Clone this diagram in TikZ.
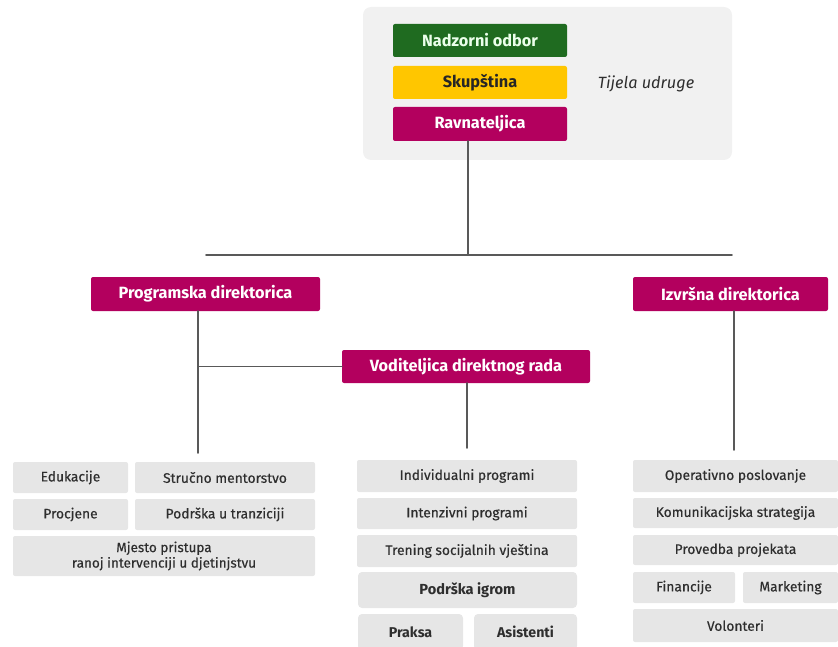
\documentclass[tikz,border=0pt]{standalone}
\usepackage{fontspec}
\setmainfont{Fira Sans}
\definecolor{zelena}{HTML}{1F6B20}
\definecolor{zuta}{HTML}{FFC600}
\definecolor{ljubicasta}{HTML}{B3005E}
\definecolor{siva}{HTML}{E6E6E6}
\definecolor{pozadina}{HTML}{F1F1F1}
\definecolor{linija}{HTML}{595959}
\definecolor{tekst}{HTML}{2E2E2E}
\begin{document}
\begin{tikzpicture}[x=1pt,y=-1pt,line join=round,line cap=round,
	kutija/.style={inner sep=0pt,outer sep=0pt,rounded corners=2pt,align=center,font=\fontsize{16.3}{18}\selectfont\bfseries},
	ravn/.style={kutija,fill=ljubicasta,text=white,minimum height=34pt},
	sivo/.style={inner sep=0pt,outer sep=0pt,rounded corners=2pt,fill=siva,text=tekst,align=center,font=\fontsize{13.8}{15}\selectfont\addfontfeature{FakeBold=0.4}},
	sivobold/.style={sivo,rounded corners=4pt,font=\fontsize{14.2}{16}\selectfont\bfseries},
	veza/.style={draw=linija,line width=1.6pt}]
	\useasboundingbox (0,0) rectangle (838,647);
	% tijela udruge
	\fill[pozadina,rounded corners=8pt] (363,7) rectangle (732,160);
	\node[kutija,fill=zelena,text=green!8,minimum width=174pt,minimum height=33pt] (nadzor) at (480,40.5) {Nadzorni odbor};
	\node[kutija,fill=zuta,text=black!85,minimum width=174pt,minimum height=33pt] (skup) at (480,82.5) {Skupština};
	\node[ravn,minimum width=174pt] (ravnat) at (480,124) {Ravnateljica};
	\node[font=\fontsize{16.3}{18}\selectfont\itshape,text=tekst] (tijela) at (646,84) {Tijela udruge};
	% glavna linija
	\coordinate (jn) at (468,255);
	\coordinate (jl) at (206,255);
	\coordinate (jr) at (732,255);
	\draw[veza] (ravnat.south -| jn) -- (jn);
	\draw[veza] (jl) -- (jr);
	% direktorice
	\node[ravn,minimum width=229pt] (prog) at (205.5,294) {Programska direktorica};
	\node[ravn,minimum width=195pt] (izvr) at (730.5,294) {Izvršna direktorica};
	\node[ravn,minimum width=248pt,minimum height=33pt] (vodit) at (466,366.5) {Voditeljica direktnog rada};
	\coordinate (pd) at (198,453);
	\coordinate (vd) at (467,448);
	\coordinate (id) at (734,450);
	\draw[veza] (prog.south -| pd) -- (pd);
	\draw[veza] (vodit.west) -- (vodit.west -| pd);
	\draw[veza] (vodit.south -| vd) -- (vd);
	\draw[veza] (izvr.south -| id) -- (id);
	% lijevi stupac
	\node[sivo,minimum width=115pt,minimum height=31pt] (edu) at (70.5,477.5) {Edukacije};
	\node[sivo,minimum width=180pt,minimum height=31pt] (mentor) at (225,477.5) {Stručno mentorstvo};
	\node[sivo,minimum width=115pt,minimum height=31pt] (procj) at (70.5,514.5) {Procjene};
	\node[sivo,minimum width=180pt,minimum height=31pt] (tranz) at (225,514.5) {Podrška u tranziciji};
	\node[sivo,minimum width=302pt,minimum height=40pt,font=\fontsize{13.5}{15.5}\selectfont\addfontfeature{FakeBold=0.4}] (mjesto) at (164,556) {Mjesto pristupa\\ranoj intervenciji u djetinjstvu};
	% srednji stupac
	\node[sivo,minimum width=220pt,minimum height=32pt] (indiv) at (467,476) {Individualni programi};
	\node[sivo,minimum width=220pt,minimum height=31pt] (inten) at (467,513.5) {Intenzivni programi};
	\node[sivo,minimum width=220pt,minimum height=32pt] (trening) at (467,551) {Trening socijalnih vještina};
	\node[sivobold,minimum width=219pt,minimum height=36pt,font=\fontsize{14.6}{16}\selectfont\bfseries] (igrom) at (467.5,590) {Podrška igrom};
	\node[sivobold,minimum width=105pt,minimum height=36pt] (praksa) at (410.5,632) {Praksa};
	\node[sivobold,minimum width=103pt,minimum height=36pt] (asist) at (525.5,632) {Asistenti};
	% desni stupac
	\node[sivo,minimum width=205pt,minimum height=32pt] (oper) at (735.5,476) {Operativno poslovanje};
	\node[sivo,minimum width=205pt,minimum height=30pt] (komun) at (735.5,513) {Komunikacijska strategija};
	\node[sivo,minimum width=205pt,minimum height=30pt] (proved) at (735.5,550) {Provedba projekata};
	\node[sivo,minimum width=102pt,minimum height=31pt] (finan) at (684,587.5) {Financije};
	\node[sivo,minimum width=95pt,minimum height=31pt] (market) at (790.5,587.5) {Marketing};
	\node[sivo,minimum width=205pt,minimum height=33pt] (volont) at (735.5,625.5) {Volonteri};
\end{tikzpicture}
\end{document}
